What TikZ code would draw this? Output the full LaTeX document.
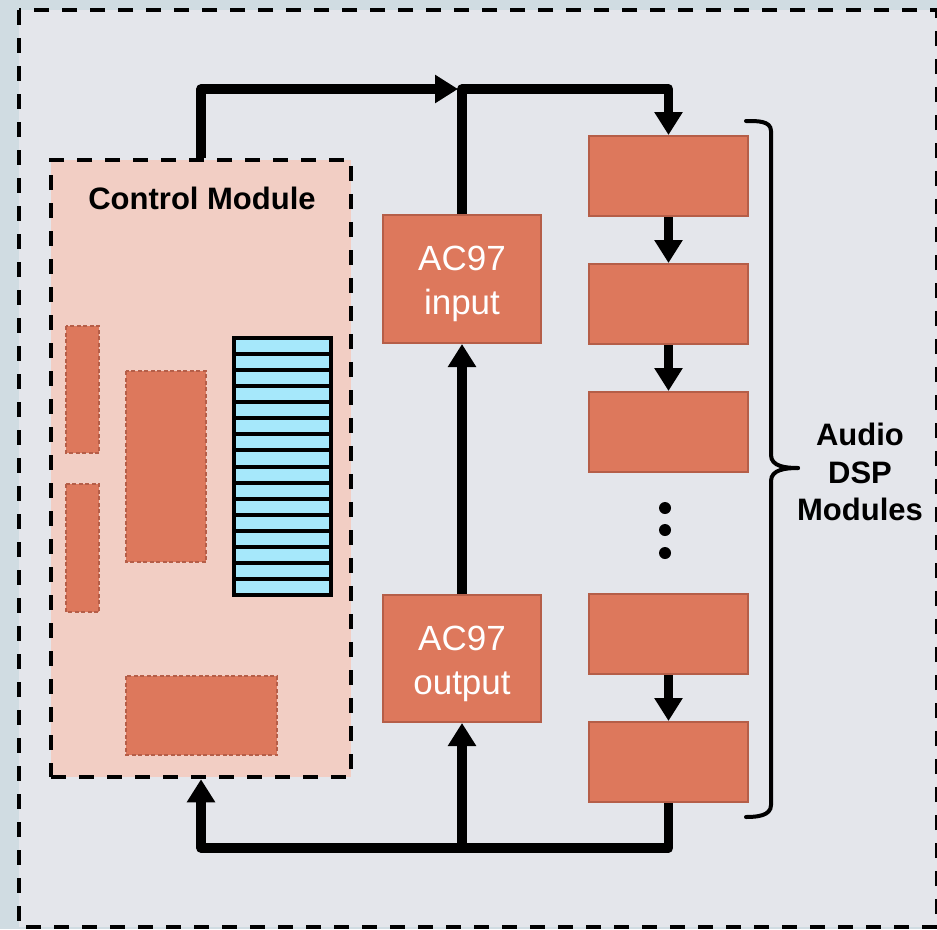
\documentclass[tikz,border=0pt]{standalone}
\usepackage{fontspec}
\setmainfont{Liberation Sans}
\usetikzlibrary{positioning,arrows.meta}

\definecolor{outerbg}{HTML}{D0DCE2}
\definecolor{panelbg}{HTML}{E4E6EB}
\definecolor{ctrlbg}{HTML}{F2CEC4}
\definecolor{dspfill}{HTML}{DD785C}
\definecolor{dspedge}{HTML}{B55E48}
\definecolor{fifo}{HTML}{A6E8FB}

\begin{document}
\begin{tikzpicture}[x=1pt, y=-1pt]
    % Define styles
    \tikzstyle{module} = [rectangle, minimum width=159pt, minimum height=80pt, fill=dspfill, draw=dspedge, line width=2pt]
    \tikzstyle{codec} = [module, minimum width=158pt, minimum height=128pt, text=white, align=center, font=\fontsize{35}{44}\selectfont]
    \tikzstyle{part} = [fill=dspfill, draw=dspedge, line width=2pt, dash pattern=on 4pt off 2.5pt]
    \tikzstyle{group} = [draw=black, line width=4.5pt, dash pattern=on 15pt off 13pt]
    \tikzstyle{bus} = [line width=9.5pt, line join=round]
    \tikzstyle{arrow} = [bus, -{Triangle[length=23pt,width=27pt]}]

    % Background
    \fill[outerbg] (0,0) rectangle (937,929);
    \useasboundingbox (0,0) rectangle (937,929);
    \draw[group, fill=panelbg] (19,10) rectangle (937,927);

    % Control module
    \node[group, fill=ctrlbg, minimum width=300pt, minimum height=617pt] (ctrl) at (201,468.5) {};
    \node[font=\fontsize{31}{37}\selectfont\bfseries] (title) at (202,198) {Control Module};
    \draw[part] (66,326) rectangle (99,453);
    \draw[part] (66,484) rectangle (99,612);
    \draw[part] (126,371) rectangle (206,562);
    \draw[part] (126,676) rectangle (277,755);
    \foreach \i in {0,...,15}
        \draw[fill=fifo, line width=4pt] (234,338+\i*16.0625) rectangle ++(97,16.0625);

    % AC97 codec
    \node[codec] (in) at (462,279) {\rule{0pt}{35pt}AC97\\input};
    \node[codec, minimum height=127pt] (out) at (462,658.5) {\rule{0pt}{35pt}AC97\\output};

    % DSP chain
    \node[module] (dsp1) at (668.5,176) {};
    \node[module, below=46pt of dsp1] (dsp2) {};
    \node[module, below=46pt of dsp2] (dsp3) {};
    \node[module] (dsp4) at (668.5,634) {};
    \node[module, below=46pt of dsp4] (dsp5) {};
    \foreach \y in {508,530,553}
        \fill (665,\y) circle (6pt);

    % Brace and label
    \draw[line width=4pt, line cap=round] (746,121) to[out=0,in=90] (771,131) -- (771,455) to[out=-90,in=180] (798,468);
    \draw[line width=4pt, line cap=round] (798,468) to[out=180,in=90] (771,481) -- (771,805) to[out=-90,in=0] (746,817);
    \node[align=center, font=\fontsize{31}{37.5}\selectfont\bfseries] (dsplabel) at (860,472) {Audio\\DSP\\Modules};

    % Arrows
    \coordinate (jtop) at (462,89);
    \coordinate (jbot) at (462,848);
    \draw[arrow, shorten >=4pt] (ctrl.north) |- (jtop);
    \draw[arrow] (in.north) -- (jtop) -| (dsp1.north);
    \draw[arrow] (dsp1) -- (dsp2);
    \draw[arrow] (dsp2) -- (dsp3);
    \draw[arrow] (dsp4) -- (dsp5);
    \draw[arrow] (out) -- (in);
    \draw[arrow] (dsp5.south) |- (jbot) -| (ctrl.south);
    \draw[arrow] (jbot) -- (out);
\end{tikzpicture}
\end{document}
